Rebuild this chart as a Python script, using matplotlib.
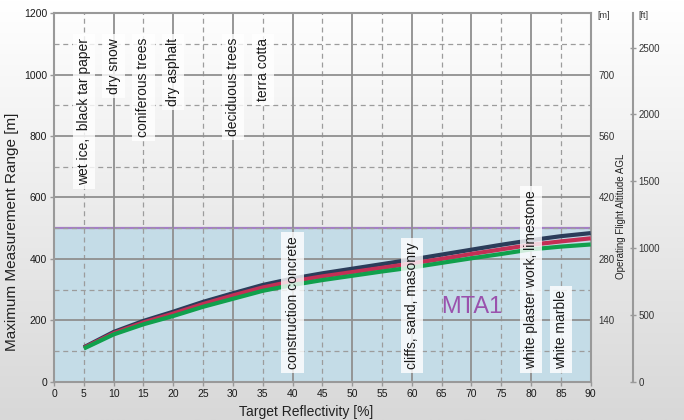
import numpy as np
import matplotlib
matplotlib.use("Agg")
import matplotlib.pyplot as plt
from matplotlib.colors import LinearSegmentedColormap

plt.rcParams['font.family'] = ['Liberation Sans', 'DejaVu Sans']

# ---------------- data ----------------
reflectivity = [5, 10, 15, 20, 25, 30, 35, 40, 45, 50, 55, 60, 65, 70, 75, 80, 85, 90]
range_navy  = [112, 162, 198, 228, 260, 288, 315, 336, 353, 368, 383, 398, 414, 430, 446, 461, 474, 484]
range_red   = [110, 158, 193, 222, 253, 281, 307, 327, 343, 357, 371, 385, 400, 416, 431, 446, 457, 467]
range_green = [108, 154, 187, 214, 244, 270, 296, 315, 331, 345, 359, 372, 387, 402, 416, 431, 440, 447]

mta_limit = 500
mta_label = "MTA1"

top_materials = ["wet ice,  black tar paper", "dry snow", "coniferous trees",
                 "dry asphalt", "deciduous trees", "terra cotta"]
top_material_x = [5, 10, 15, 20, 30, 35]
bottom_materials = ["construction concrete", "cliffs, sand, masonry",
                    "white plaster work, limestone", "white marble"]
bottom_material_x = [40, 60, 80, 85]

x_ticks = list(range(0, 95, 5))
y_ticks = [0, 200, 400, 600, 800, 1000, 1200]
alt_m_ticks = [200, 400, 600, 800, 1000]
alt_m_labels = ["140", "280", "420", "560", "700"]
alt_ft_ticks = [0, 500, 1000, 1500, 2000, 2500]

# ---------------- figure ----------------
W, H = 684, 420
fig = plt.figure(figsize=(W / 100, H / 100), dpi=100)

# gradient background
bg = fig.add_axes([0, 0, 1, 1], zorder=-10)
grad = np.linspace(1, 0, 256).reshape(-1, 1)
cmap = LinearSegmentedColormap.from_list("g", ["#d8d8d8", "#ffffff"])
bg.imshow(grad, aspect="auto", cmap=cmap, extent=[0, 1, 0, 1], origin="upper")
bg.axis("off")

left, right, top, bottom = 54.0, 590.7, 13.3, 381.7
ax = fig.add_axes([left / W, 1 - bottom / H, (right - left) / W, (bottom - top) / H])
ax.patch.set_alpha(0)
ax.set_xlim(0, 90)
ax.set_ylim(0, 1200)

# MTA region
ax.fill_between([0, 90], 0, mta_limit, color="#c4dce7", zorder=0)
ax.axhline(mta_limit, color="#a57fc6", lw=1.6, zorder=1)

# grid
for xv in range(10, 90, 10):
    ax.axvline(xv, color="#8f8f8f", lw=1.3, zorder=1)
for xv in range(5, 90, 10):
    ax.axvline(xv, color="#9c9c9c", lw=0.9, ls=(0, (4, 3)), zorder=1)
for yv in range(200, 1200, 200):
    ax.axhline(yv, color="#8f8f8f", lw=1.3, zorder=1)
for yv in range(100, 1200, 200):
    ax.axhline(yv, color="#9c9c9c", lw=0.9, ls=(0, (4, 3)), zorder=1)

for s in ax.spines.values():
    s.set_color("#999999")
    s.set_linewidth(1.5)

# curves
ax.plot(reflectivity, range_navy, color="#2b3d5a", lw=3.0, zorder=3, solid_capstyle="butt")
ax.plot(reflectivity, range_red, color="#c42f55", lw=3.0, zorder=4, solid_capstyle="butt")
ax.plot(reflectivity, range_green, color="#10a04c", lw=3.0, zorder=5, solid_capstyle="butt")

# material labels
box = dict(boxstyle="square,pad=0.3", facecolor="white", edgecolor="none", alpha=0.8)
for name, xv in zip(top_materials, top_material_x):
    ax.text(xv, 1120, name, rotation=90, ha="center", va="top", fontsize=10,
            color="#1a1a1a", bbox=box, zorder=6)
for name, xv in zip(bottom_materials, bottom_material_x):
    ax.text(xv, 41, name, rotation=90, ha="center", va="bottom", fontsize=10,
            color="#1a1a1a", bbox=box, zorder=6)

ax.text(70, 243, mta_label, ha="center", va="center", fontsize=17, color="#9a52ad", zorder=6)

# ticks
ax.set_xticks(x_ticks)
ax.set_yticks(y_ticks)
ax.tick_params(axis="both", direction="out", length=3, width=1, color="#999999",
               labelsize=7.5, labelcolor="#1a1a1a", pad=2)

# axis labels
fig.text(12 / W, 1 - 232 / H, "Maximum Measurement Range [m]", rotation=90,
         ha="center", va="center", fontsize=11, color="#222222")
fig.text(306 / W, 1 - 412 / H, "Target Reflectivity [%]", ha="center", va="center",
         fontsize=10, color="#222222")

# right [m] axis labels
ax2 = ax.twinx()
ax2.set_ylim(0, 1200)
ax2.set_yticks(alt_m_ticks)
ax2.set_yticklabels(alt_m_labels)
ax2.tick_params(axis="y", length=0, labelsize=7, labelcolor="#333333", pad=5.5)
for s in ax2.spines.values():
    s.set_visible(False)
fig.text(597 / W, 1 - 16 / H, "[m]", ha="left", va="center", fontsize=6.5, color="#333333")

# [ft] axis
ftx = 632.7
ax3 = fig.add_axes([ftx / W - 0.0005, 1 - bottom / H, 0.0005, (bottom - top) / H])
ax3.patch.set_alpha(0)
ax3.set_ylim(0, 1200 * 0.7 / 0.3048)
ax3.set_xticks([])
for k in ["left", "top", "bottom"]:
    ax3.spines[k].set_visible(False)
ax3.spines["right"].set_color("#999999")
ax3.spines["right"].set_linewidth(1.5)
ax3.yaxis.tick_right()
ax3.set_yticks(alt_ft_ticks)
ax3.tick_params(axis="y", direction="inout", length=4, width=1, color="#999999",
                labelsize=7, labelcolor="#333333", pad=2)
fig.text(638 / W, 1 - 16 / H, "[ft]", ha="left", va="center", fontsize=6.5, color="#333333")
fig.text(621 / W, 1 - 216 / H, "Operating Flight Altitude AGL", rotation=90,
         ha="center", va="center", fontsize=7, color="#222222")

fig.savefig("out.png", dpi=100)
